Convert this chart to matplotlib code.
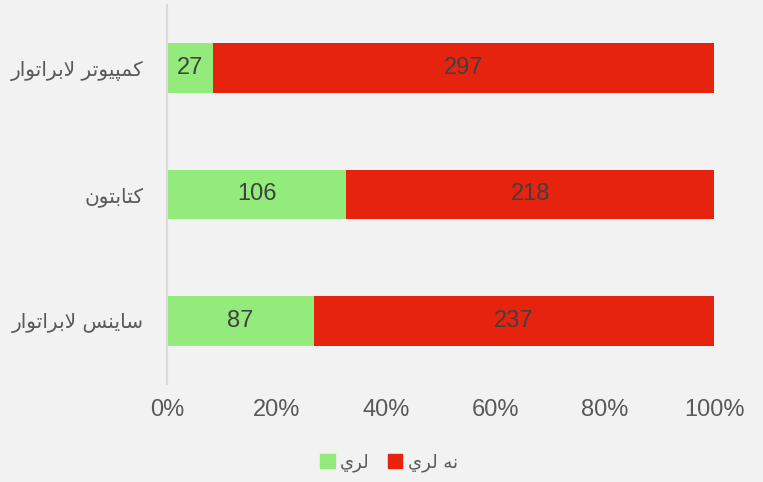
import numpy as np
from matplotlib import pyplot as plt
from matplotlib.patches import Patch

categories = ["ساینس لابراتوار", "کتابتون", "کمپیوتر لابراتوار"]
have = [87, 106, 27]
have_not = [237, 218, 297]
series_names = ["لري", "نه لري"]
ticks = [0, 20, 40, 60, 80, 100]

# presentation forms: isolated, final, initial, medial
FORMS = {
    "ا": ("\uFE8D", "\uFE8E", None, None),
    "ب": ("\uFE8F", "\uFE90", "\uFE91", "\uFE92"),
    "ت": ("\uFE95", "\uFE96", "\uFE97", "\uFE98"),
    "ر": ("\uFEAD", "\uFEAE", None, None),
    "س": ("\uFEB1", "\uFEB2", "\uFEB3", "\uFEB4"),
    "ل": ("\uFEDD", "\uFEDE", "\uFEDF", "\uFEE0"),
    "م": ("\uFEE1", "\uFEE2", "\uFEE3", "\uFEE4"),
    "ن": ("\uFEE5", "\uFEE6", "\uFEE7", "\uFEE8"),
    "ه": ("\uFEE9", "\uFEEA", "\uFEEB", "\uFEEC"),
    "و": ("\uFEED", "\uFEEE", None, None),
    "ي": ("\uFEF1", "\uFEF2", "\uFEF3", "\uFEF4"),
    "ی": ("\uFEF1", "\uFEF2", "\uFEF3", "\uFEF4"),
    "پ": ("\uFB56", "\uFB57", "\uFB58", "\uFB59"),
    "ک": ("\uFB8E", "\uFB8F", "\uFB90", "\uFB91"),
}


def shape(text):
    # join letters by hand, matplotlib has no arabic shaping
    chars = list(text.replace("ی", "ي"))
    out = []
    i = 0
    while i < len(chars):
        c = chars[i]
        prev = chars[i - 1] if i > 0 else None
        joins_prev = prev in FORMS and FORMS[prev][2] is not None
        if c == "ل" and i + 1 < len(chars) and chars[i + 1] == "ا":
            out.append("\uFEFC" if joins_prev else "\uFEFB")
            i += 2
            continue
        if c not in FORMS:
            out.append(c)
            i += 1
            continue
        nxt = chars[i + 1] if i + 1 < len(chars) else None
        joins_next = FORMS[c][2] is not None and nxt in FORMS
        iso, fin, ini, med = FORMS[c]
        if joins_prev and joins_next:
            out.append(med)
        elif joins_prev:
            out.append(fin)
        elif joins_next:
            out.append(ini)
        else:
            out.append(iso)
        i += 1
    return "".join(reversed(out))


bg = "#f2f2f2"
green = "#92eb7b"
red = "#e6230f"

plt.rcParams["font.family"] = ["Liberation Sans", "DejaVu Sans"]

fig = plt.figure(figsize=(7.63, 4.82), dpi=100, facecolor=bg)
ax = fig.add_axes([0.219, 0.203, 0.717, 0.787], facecolor=bg)

have = np.array(have, dtype=float)
have_not = np.array(have_not, dtype=float)
total = have + have_not
p1 = have / total * 100
p2 = have_not / total * 100
y = np.arange(len(categories))

b1 = ax.barh(y, p1, height=0.395, color=green, label=series_names[0])
b2 = ax.barh(y, p2, left=p1, height=0.395, color=red, label=series_names[1])

for i in range(len(y)):
    ax.text(p1[i] / 2, y[i], str(int(have[i])), ha="center", va="center",
            fontsize=17, color="#404040")
    ax.text(p1[i] + p2[i] / 2, y[i], str(int(have_not[i])), ha="center",
            va="center", fontsize=17, color="#404040")

ax.set_xlim(0, 100)
ax.set_ylim(-0.5, 2.5)
ax.set_xticks(ticks)
ax.set_xticklabels([str(t) + "%" for t in ticks], fontsize=17, color="#595959")
ax.set_yticks(y)
ax.set_yticklabels([shape(c) for c in categories], fontsize=14.5, color="#595959",
                   family="DejaVu Sans")
ax.tick_params(axis="x", length=0, pad=11)
ax.tick_params(axis="y", length=0, pad=17)

for s in ["top", "right", "bottom"]:
    ax.spines[s].set_visible(False)
ax.spines["left"].set_color("#d9d9d9")
ax.spines["left"].set_linewidth(1.5)

handles = [Patch(color=green), Patch(color=red)]
leg = fig.legend(handles, [shape(n) for n in series_names], loc="center",
                 bbox_to_anchor=(0.51, 0.04), ncol=2, frameon=False,
                 prop={"family": "DejaVu Sans", "size": 13},
                 handlelength=0.8, handleheight=0.8, handletextpad=0.3,
                 columnspacing=1.0, labelcolor="#595959")

fig.savefig("out.png", dpi=100, facecolor=bg)
